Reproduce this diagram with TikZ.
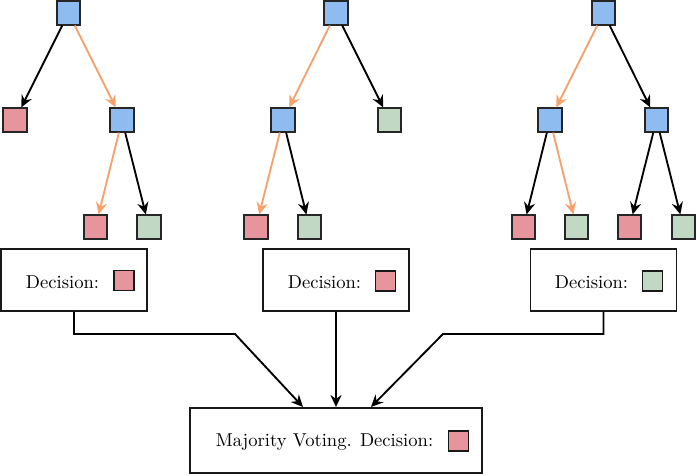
\documentclass[tikz,border=0pt]{standalone}
\usetikzlibrary{arrows.meta}
\definecolor{nblue}{RGB}{142,187,240}
\definecolor{nred}{RGB}{229,149,155}
\definecolor{ngreen}{RGB}{193,216,197}
\definecolor{norange}{RGB}{245,162,110}
\begin{document}
\begin{tikzpicture}[x=0.5376pt,y=-0.5376pt,
  sq/.style={draw=black!85, line width=1pt, minimum size=12.5pt, inner sep=0pt},
  bl/.style={sq, fill=nblue},
  rd/.style={sq, fill=nred},
  gr/.style={sq, fill=ngreen},
  dsq/.style={draw=black!90, line width=1pt, minimum size=10.8pt, inner sep=0pt},
  box/.style={draw=black!90, line width=1pt, minimum width=78.5pt, minimum height=33.3pt, inner sep=0pt},
  txt/.style={inner sep=0pt, anchor=base, font=\fontsize{10}{12}\selectfont},
  ea/.style={line width=1pt, draw=black, -{Stealth[length=6.5pt,width=6pt,inset=2.2pt]}},
  eo/.style={line width=1pt, draw=norange, -{Stealth[length=6.5pt,width=6pt,inset=2.2pt]}}
]
\useasboundingbox (0,0) rectangle (697,476);
% tree 1
\node[bl] (r1) at (68.5,13) {};
\node[rd] (a1) at (15,120) {};
\node[bl] (b1) at (122,120) {};
\node[rd] (c11) at (95.5,227) {};
\node[gr] (c12) at (149,227) {};
\draw[ea] (r1) -- (a1);
\draw[eo] (r1) -- (b1);
\draw[eo] (b1) -- (c11);
\draw[ea] (b1) -- (c12);
% tree 2
\node[bl] (r2) at (336,13) {};
\node[bl] (a2) at (283,120) {};
\node[gr] (b2) at (389.5,120) {};
\node[rd] (c21) at (256,227) {};
\node[gr] (c22) at (309.5,227) {};
\draw[eo] (r2) -- (a2);
\draw[ea] (r2) -- (b2);
\draw[eo] (a2) -- (c21);
\draw[ea] (a2) -- (c22);
% tree 3
\node[bl] (r3) at (603.5,13) {};
\node[bl] (a3) at (550,120) {};
\node[bl] (b3) at (656.5,120) {};
\node[rd] (c31) at (523.5,227) {};
\node[gr] (c32) at (576.5,227) {};
\node[rd] (c33) at (629.5,227) {};
\node[gr] (c34) at (683.5,227) {};
\draw[eo] (r3) -- (a3);
\draw[ea] (r3) -- (b3);
\draw[ea] (a3) -- (c31);
\draw[eo] (a3) -- (c32);
\draw[ea] (b3) -- (c33);
\draw[ea] (b3) -- (c34);
% decision boxes
\node[box] (d1) at (74,280) {};
\node[txt] (t1) at (62.5,288) {Decision:};
\node[dsq, fill=nred] (s1) at (124,280.5) {};
\node[box] (d2) at (336,280) {};
\node[txt] (t2) at (324.5,288) {Decision:};
\node[dsq, fill=nred] (s2) at (385.5,281) {};
\node[box] (d3) at (603.5,280) {};
\node[txt] (t3) at (591.5,288) {Decision:};
\node[dsq, fill=ngreen] (s3) at (652.5,281) {};
% majority box
\node[box, minimum width=157pt, minimum height=35pt] (mv) at (336,440.5) {};
\node[txt] (tm) at (324.5,446) {Majority Voting. Decision:};
\node[dsq, fill=nred] (sm) at (458.5,441) {};
% connectors
\coordinate (k1) at (235,334);
\coordinate (e1) at (303,407);
\coordinate (k3) at (443,334);
\coordinate (e3) at (371,407);
\draw[ea] (d1.south) |- (k1) -- (e1);
\draw[ea] (d2.south) -- (mv.north);
\draw[ea] (d3.south) |- (k3) -- (e3);
\end{tikzpicture}
\end{document}
